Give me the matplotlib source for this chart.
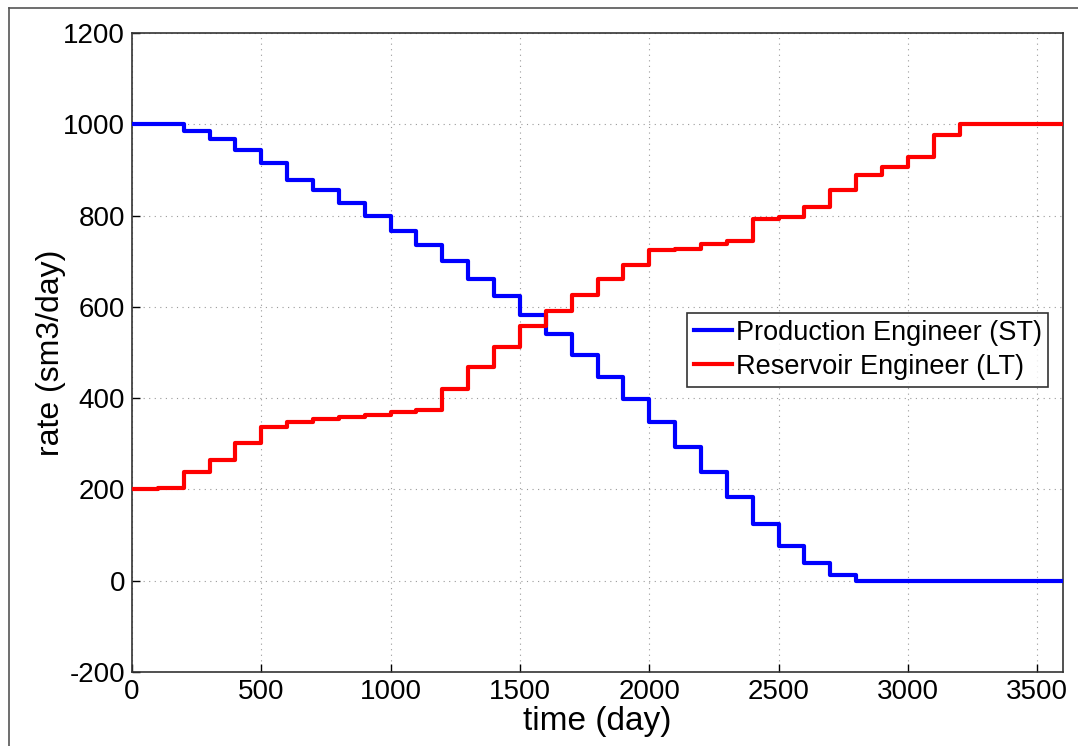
import numpy as np
import matplotlib
matplotlib.use("Agg")
import matplotlib.pyplot as plt
from matplotlib.lines import Line2D

# ----------------------------------------------------------------------
# Data: rate per 100-day interval (step changes every 100 days)
# ----------------------------------------------------------------------
time_edges = np.arange(0, 3700, 100)

production_st = [1000, 1000, 985, 967, 944, 915, 879, 856, 828, 799,
                 767, 735, 700, 661, 623, 582, 540, 494, 447, 398,
                 348, 293, 238, 183, 125, 75, 39, 13, 0, 0,
                 0, 0, 0, 0, 0, 0]

reservoir_lt = [200, 203, 238, 265, 302, 337, 348, 355, 359, 364,
                370, 375, 420, 469, 511, 559, 590, 626, 661, 691,
                724, 726, 738, 744, 793, 796, 818, 856, 888, 906,
                929, 976, 1000, 1000, 1000, 1000]

x_ticks = [0, 500, 1000, 1500, 2000, 2500, 3000, 3500]
y_ticks = [-200, 0, 200, 400, 600, 800, 1000, 1200]

plt.rcParams["font.family"] = ["Liberation Sans", "DejaVu Sans"]
plt.rcParams["axes.unicode_minus"] = False

fig = plt.figure(figsize=(10.78, 7.46), dpi=100)
ax = fig.add_axes([132 / 1078, 1 - 672 / 746, 931 / 1078, 639 / 746])

# repeat last value so the final step reaches the right edge
ax.step(time_edges, production_st + production_st[-1:], where="post",
        color="#0000ff", lw=3, label="Production Engineer (ST)", zorder=3)
ax.step(time_edges, reservoir_lt + reservoir_lt[-1:], where="post",
        color="#ff0000", lw=3, label="Reservoir Engineer (LT)", zorder=3)

ax.set_xlim(0, 3600)
ax.set_ylim(-200, 1200)
ax.set_xticks(x_ticks)
ax.set_yticks(y_ticks)
ax.tick_params(direction="in", length=6, width=1, labelsize=20,
               top=False, right=False, pad=5)
ax.grid(True, linestyle=(0, (1, 4)), color="#9a9a9a", lw=0.8)
for sp in ax.spines.values():
    sp.set_color("#333333")
    sp.set_linewidth(1.2)

ax.set_xlabel("time (day)", fontsize=24, labelpad=1)
ax.set_ylabel("rate (sm3/day)", fontsize=23, labelpad=-2)

leg = ax.legend(loc="upper left", bbox_to_anchor=(0.596, 0.562), fontsize=19.5,
                frameon=True, fancybox=False, handlelength=1.4,
                handletextpad=0.15, borderpad=0.25, labelspacing=0.3,
                borderaxespad=0)
leg.get_frame().set_edgecolor("#000000")
leg.get_frame().set_linewidth(1.2)

# outer frame lines (top and left)
fig.add_artist(Line2D([9 / 1078, 1], [1 - 8 / 746, 1 - 8 / 746],
                      transform=fig.transFigure, color="#555555", lw=1.2))
fig.add_artist(Line2D([9 / 1078, 9 / 1078], [0, 1 - 8 / 746],
                      transform=fig.transFigure, color="#555555", lw=1.2))

fig.savefig("out.png", dpi=100, facecolor="white")
